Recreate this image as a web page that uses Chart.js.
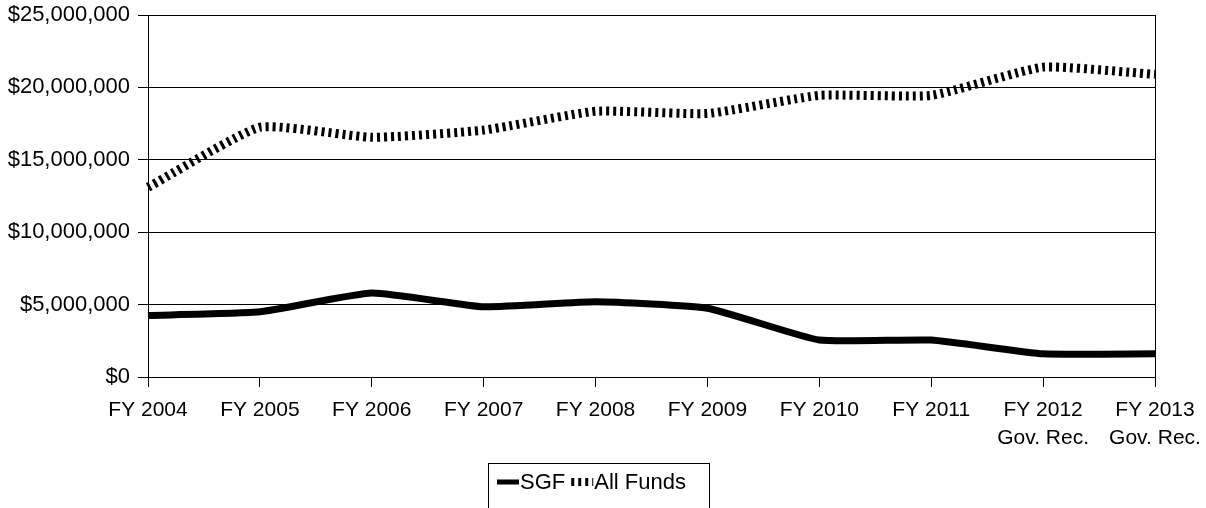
<!DOCTYPE html>
<html>
<head>
<meta charset="utf-8">
<script src="https://cdn.jsdelivr.net/npm/chart.js@4.4.0/dist/chart.umd.min.js"></script>
<style>
  html, body { margin: 0; padding: 0; background: #fff; }
  canvas { display: block; }
</style>
</head>
<body>
<canvas id="fundsChart" width="1206" height="508"></canvas>
<script>
const categories = [
    'FY 2004', 'FY 2005', 'FY 2006', 'FY 2007', 'FY 2008',
    'FY 2009', 'FY 2010', 'FY 2011', ['FY 2012', 'Gov. Rec.'], ['FY 2013', 'Gov. Rec.']
];
const sgfValues = [4250000, 4500000, 5800000, 4850000, 5200000, 4750000, 2550000, 2550000, 1600000, 1600000];
const allFundsValues = [13100000, 17250000, 16550000, 17050000, 18350000, 18200000, 19450000, 19450000, 21400000, 20900000];
const yTicks = [0, 5000000, 10000000, 15000000, 20000000, 25000000];

const FONT = "'Liberation Sans', Arial, sans-serif";

// legend with a box, drawn by hand
const boxLegend = {
    id: 'boxLegend',
    afterDraw(chart) {
        const c = chart.ctx;
        c.save();
        c.strokeStyle = '#000';
        c.lineWidth = 1;
        c.strokeRect(488.5, 463.5, 221, 60);

        c.font = '22px ' + FONT;
        c.fillStyle = '#000';
        c.textBaseline = 'middle';
        let x = 497;
        const y = 482;
        chart.data.datasets.forEach((ds, i) => {
            c.beginPath();
            c.lineWidth = i === 0 ? 5 : 8;
            c.setLineDash(ds.borderDash || []);
            c.lineCap = 'butt';
            c.moveTo(x, y);
            c.lineTo(x + 22, y);
            c.stroke();
            c.setLineDash([]);
            x += 23;
            c.fillText(ds.label, x, y + 1);
            x += c.measureText(ds.label).width + 6;
        });
        c.restore();
    }
};

document.addEventListener('DOMContentLoaded', () => {
    const ctx = document.getElementById('fundsChart').getContext('2d');
    const lastIndex = categories.length - 1;

    new Chart(ctx, {
        type: 'line',
        data: {
            labels: categories,
            datasets: [{
                label: 'SGF',
                data: sgfValues,
                borderColor: '#000',
                borderWidth: 7,
                pointRadius: 0,
                tension: 0.15,
                fill: false
            }, {
                label: 'All Funds',
                data: allFundsValues,
                borderColor: '#000',
                borderWidth: 9,
                borderDash: [3, 4],
                borderCapStyle: 'butt',
                pointRadius: 0,
                tension: 0.15,
                fill: false
            }]
        },
        options: {
            responsive: false,
            animation: false,
            layout: { padding: { top: 15, right: 51, left: 0, bottom: 0 } },
            scales: {
                x: {
                    offset: false,
                    afterFit: scale => {
                        scale.height = 131;
                        scale.paddingLeft = 0;
                        scale.paddingRight = 0;
                    },
                    border: { display: true, color: '#000', width: 1 },
                    grid: {
                        drawOnChartArea: true,
                        color: c => c.index === lastIndex ? '#000' : 'rgba(0,0,0,0)',
                        tickColor: '#000',
                        tickLength: 10,
                        lineWidth: 1
                    },
                    ticks: {
                        color: '#000',
                        font: { family: FONT, size: 21, lineHeight: 1.35 },
                        padding: 9,
                        maxRotation: 0,
                        autoSkip: false
                    }
                },
                y: {
                    min: 0,
                    max: 25000000,
                    afterFit: scale => {
                        scale.width = 148;
                        scale.paddingTop = 0;
                        scale.paddingBottom = 0;
                    },
                    afterBuildTicks: scale => { scale.ticks = yTicks.map(v => ({ value: v })); },
                    border: { display: true, color: '#000', width: 1 },
                    grid: {
                        color: '#000',
                        tickColor: '#000',
                        tickLength: 10,
                        lineWidth: 1
                    },
                    ticks: {
                        color: '#000',
                        font: { family: FONT, size: 22 },
                        padding: 8,
                        callback: value => '$' + Number(value).toLocaleString('en-US')
                    }
                }
            },
            plugins: {
                legend: { display: false },
                tooltip: { enabled: false }
            }
        },
        plugins: [boxLegend]
    });
});
</script>
</body>
</html>
